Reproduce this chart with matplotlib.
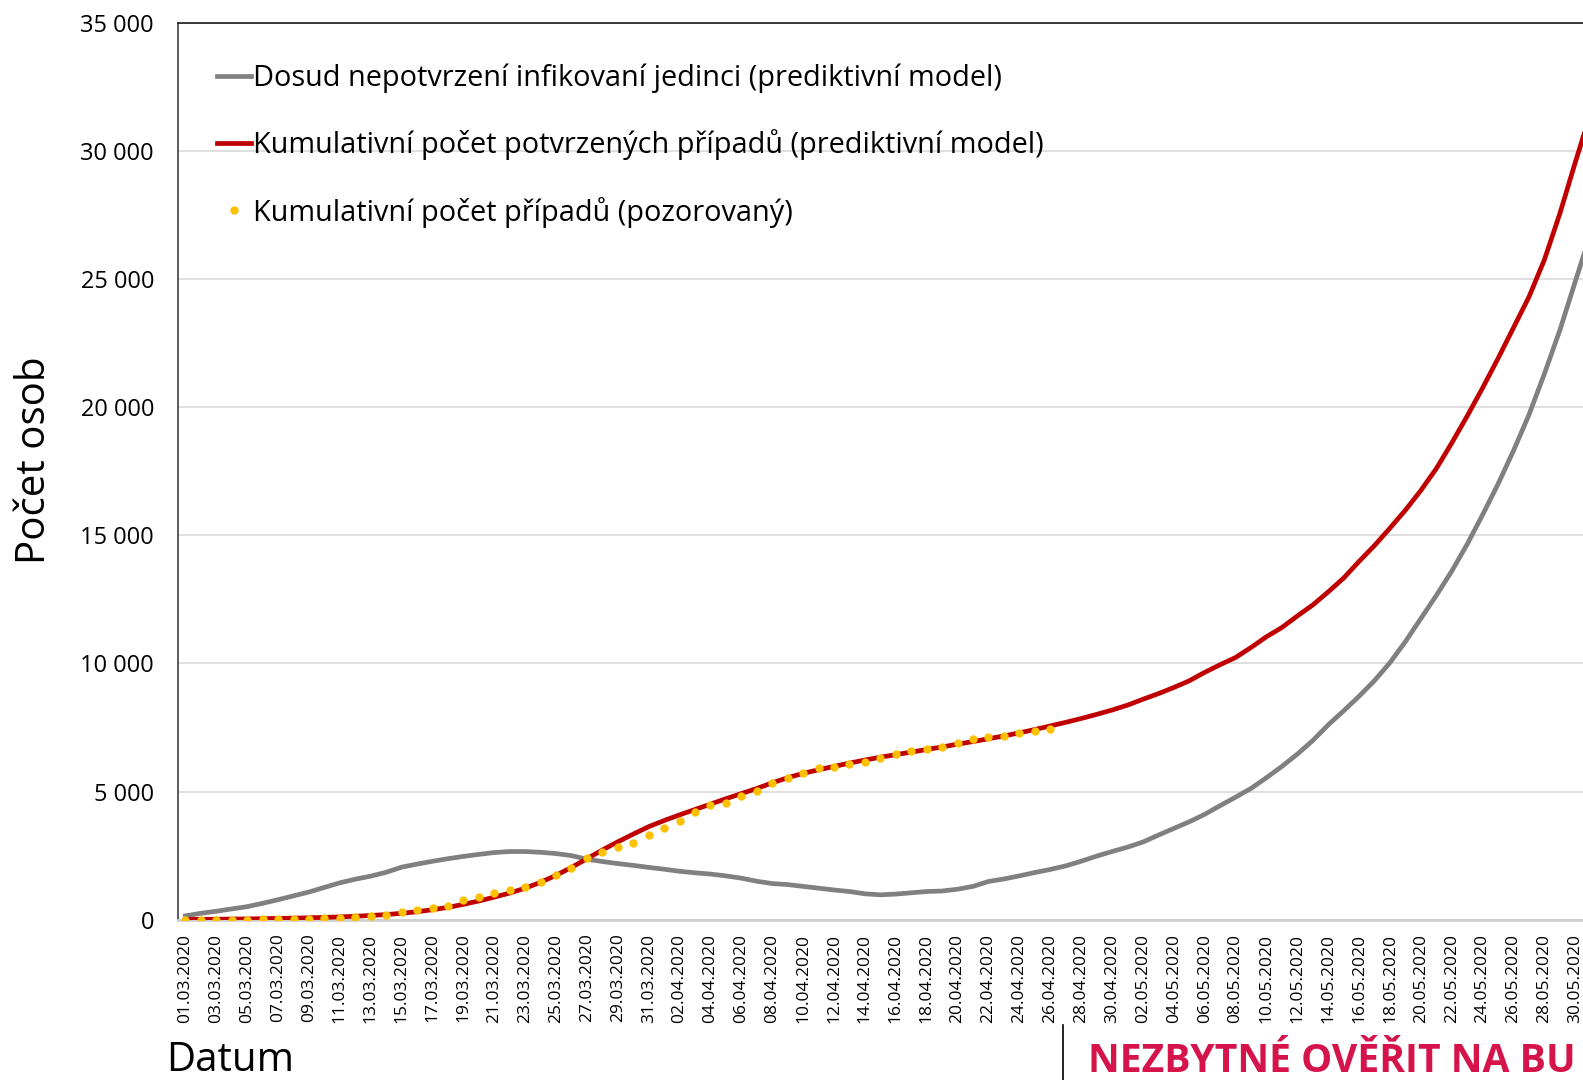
import numpy as np
import pandas as pd
import matplotlib
matplotlib.use('Agg')
import matplotlib.pyplot as plt
from matplotlib.lines import Line2D
from matplotlib.ticker import FuncFormatter

plt.rcParams['font.family'] = ['Open Sans', 'DejaVu Sans']

# datumy 01.03.2020 - 31.05.2020
datumy = pd.date_range('2020-03-01', periods=92, freq='D')
popisky = [d.strftime('%d.%m.%Y') for d in datumy]

# dosud nepotvrzeni infikovani (model)
nepotvrzeni = [150, 250, 330, 420, 510, 640, 780, 930, 1080, 1260,
               1440, 1580, 1700, 1850, 2050, 2170, 2280, 2380, 2470, 2550,
               2620, 2660, 2660, 2630, 2580, 2500, 2360, 2270, 2190, 2120,
               2040, 1970, 1890, 1830, 1780, 1710, 1620, 1500, 1410, 1370,
               1300, 1230, 1160, 1100, 1010, 970, 1000, 1050, 1100, 1120,
               1190, 1300, 1490, 1590, 1710, 1840, 1960, 2100, 2280, 2480,
               2660, 2830, 3030, 3300, 3560, 3820, 4110, 4450, 4780, 5120,
               5540, 5980, 6460, 6990, 7600, 8150, 8720, 9330, 10030, 10850,
               11750, 12650, 13600, 14650, 15800, 17000, 18300, 19700, 21300, 23000,
               24900, 26800]

# kumulativni pocet potvrzenych pripadu (model)
potvrzeni_model = [10, 15, 20, 25, 30, 40, 50, 60, 75, 90,
                   110, 135, 165, 200, 250, 310, 390, 480, 600, 730,
                   880, 1040, 1230, 1460, 1730, 2040, 2380, 2720, 3040, 3340,
                   3630, 3870, 4090, 4300, 4510, 4720, 4920, 5120, 5340, 5540,
                   5710, 5850, 5980, 6110, 6230, 6340, 6440, 6540, 6640, 6740,
                   6850, 6950, 7060, 7170, 7290, 7420, 7560, 7700, 7850, 8010,
                   8180, 8370, 8600, 8820, 9060, 9320, 9650, 9950, 10230, 10620,
                   11040, 11400, 11850, 12280, 12790, 13330, 13980, 14600, 15280, 15980,
                   16750, 17600, 18600, 19650, 20750, 21900, 23100, 24300, 25750, 27550,
                   29550, 31500]

# kumulativni pocet pripadu (pozorovany), 01.03. - 26.04.
pozorovano = [0, 0, 0, 0, 0, 40, 40, 40, 40, 80,
              80, 120, 140, 180, 300, 380, 460, 540, 770, 890,
              1040, 1160, 1280, 1480, 1750, 2010, 2400, 2640, 2850, 2980,
              3310, 3570, 3850, 4190, 4480, 4570, 4830, 5020, 5320, 5540,
              5710, 5910, 5970, 6060, 6140, 6300, 6460, 6580, 6650, 6750,
              6910, 7040, 7140, 7180, 7280, 7370, 7430]

x = np.arange(len(datumy))
x_poz = np.arange(len(pozorovano))

fig = plt.figure(figsize=(15.83, 10.8), dpi=100)
ax = fig.add_axes([177.7 / 1583, 1 - 919.7 / 1080, 1 - 177.7 / 1583, (919.7 - 22.7) / 1080])

ax.plot(x, nepotvrzeni, color='#808080', lw=3.4, solid_joinstyle='round',
        label='Dosud nepotvrzení infikovaní jedinci (prediktivní model)', zorder=3)
ax.plot(x, potvrzeni_model, color='#C00000', lw=3.4, solid_joinstyle='round',
        label='Kumulativní počet potvrzených případů (prediktivní model)', zorder=4)
ax.plot(x_poz, pozorovano, ls='none', marker='o', ms=6, color='#FFC000', mec='none',
        label='Kumulativní počet případů (pozorovaný)', zorder=5)

ax.set_xlim(-0.5, 90.5)
ax.set_ylim(0, 35000)
ax.set_yticks(np.arange(0, 35001, 5000))
ax.yaxis.set_major_formatter(FuncFormatter(lambda v, p: f'{int(v):,}'.replace(',', ' ')))
ax.set_xticks(x[::2])
ax.set_xticklabels(popisky[::2], rotation=90, fontsize=12.5)
ax.tick_params(axis='y', labelsize=17, length=0, pad=17)
ax.tick_params(axis='x', length=0, pad=10)

ax.grid(axis='y', color='#D9D9D9', lw=1.2)
ax.set_axisbelow(True)
ax.spines['right'].set_visible(False)
ax.spines['top'].set_color('#1a1a1a')
ax.spines['top'].set_linewidth(1.2)
ax.spines['left'].set_color('#404040')
ax.spines['left'].set_linewidth(1.2)
ax.spines['bottom'].set_color('#D0D0D0')
ax.spines['bottom'].set_linewidth(2)

leg = ax.legend(loc='upper left', bbox_to_anchor=(0.02, 0.967), frameon=False,
                fontsize=20.8, handlelength=1.15, handletextpad=0.08, labelspacing=1.25,
                numpoints=1, borderaxespad=0, markerscale=1.0)

fig.text(35 / 1583, 1 - 460 / 1080, 'Počet osob', rotation=90, fontsize=29,
         ha='center', va='center')
fig.text(166 / 1583, 1 - 1071 / 1080, 'Datum', fontsize=29, ha='left', va='baseline')
fig.text(1088 / 1583, 1 - 1072 / 1080, 'NEZBYTNÉ OVĚŘIT NA BU', fontsize=28.2,
         fontweight='bold', color='#D4144A', ha='left', va='baseline')
fig.add_artist(Line2D([1063 / 1583, 1063 / 1583], [0, 1 - 1025 / 1080],
                      color='black', lw=1.2))

fig.savefig('out.png', dpi=100)
